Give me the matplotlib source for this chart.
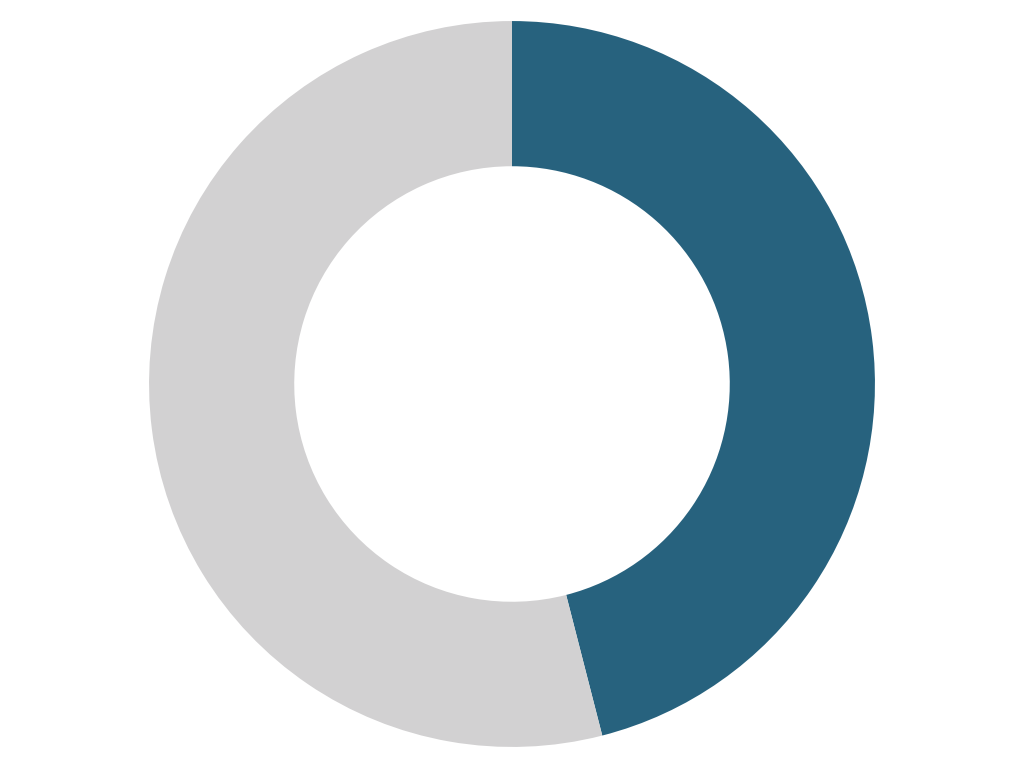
import matplotlib
matplotlib.use("Agg")
import matplotlib.pyplot as plt

labels = ["Share", "Rest"]
values = [46, 54]
colors = ["#27627E", "#D2D1D2"]

fig = plt.figure(figsize=(10.24, 7.68), dpi=100)
ax = fig.add_axes([0, 0, 1, 1])
ax.pie(values, colors=colors, startangle=90, counterclock=False,
       radius=1, wedgeprops=dict(width=0.4, edgecolor="none"))
ax.set_aspect("equal")
ax.set_ylim(-1.058, 1.058)
ax.set_xlim(-1.058 * 1024 / 768, 1.058 * 1024 / 768)
ax.axis("off")

fig.savefig("out.png", dpi=100)
